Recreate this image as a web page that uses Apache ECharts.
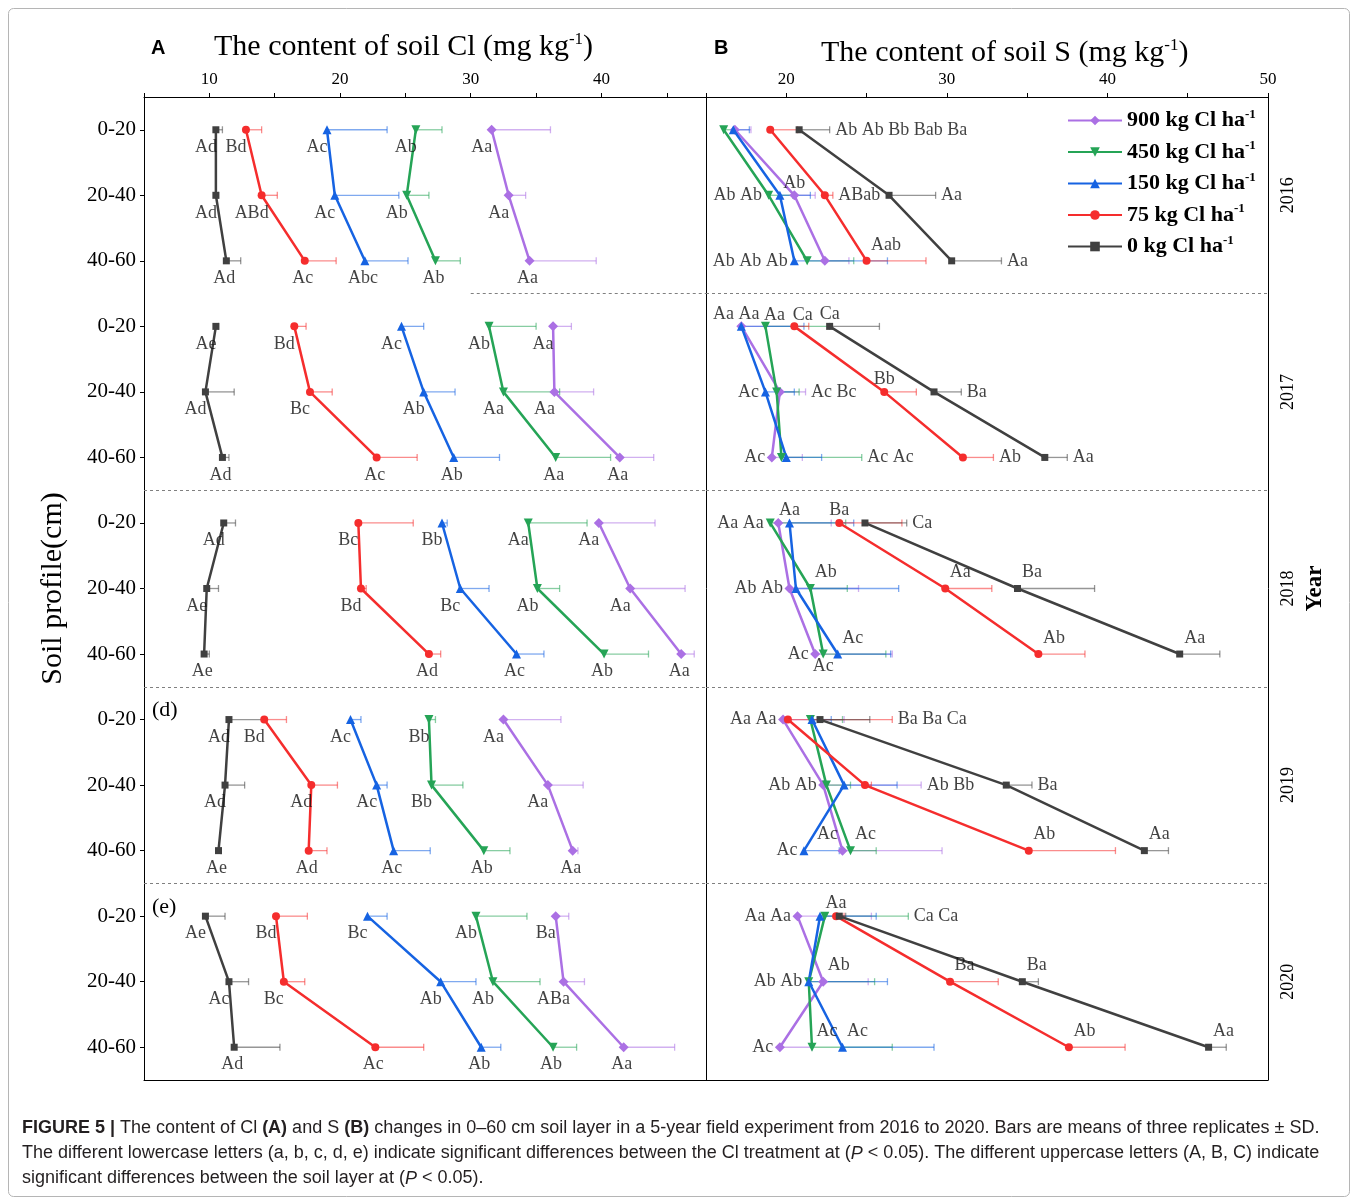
<!DOCTYPE html>
<html><head><meta charset="utf-8">
<script src="https://cdn.jsdelivr.net/npm/echarts@6/dist/echarts.min.js"></script>
<style>html,body{margin:0;padding:0;background:#fff}#c{width:1358px;height:1197px}</style>
</head><body><div id="c"></div>
<script>
// ---------------- DATA ----------------
const years = ['2016', '2017', '2018', '2019', '2020'];
const depths = ['0-20', '20-40', '40-60'];
const treatments = ['900 kg Cl ha', '450 kg Cl ha', '150 kg Cl ha', '75 kg Cl ha', '0 kg Cl ha'];
const clTicks = [10, 20, 30, 40];
const sTicks = [20, 30, 40, 50];

// Panel A: soil Cl (mg/kg); order: 2016(0-20,20-40,40-60), 2017(...), ..., 2020(...)
const clMean900 = [31.6, 32.9, 34.5, 36.3, 36.4, 41.4, 39.8, 42.2, 46.1, 32.5, 35.9, 37.8, 36.5, 37.1, 41.7];
const clSd900   = [4.5, 1.3, 5.1, 1.4, 3.0, 2.6, 4.3, 4.2, 1.0, 4.4, 2.7, 0.4, 1.0, 1.6, 3.9];
const clLet900  = ['Aa','Aa','Aa','Aa','Aa','Aa','Aa','Aa','Aa','Aa','Aa','Aa','Ba','ABa','Aa'];
const clMean450 = [25.8, 25.1, 27.3, 31.4, 32.5, 36.5, 34.4, 35.1, 40.2, 26.8, 27.0, 31.0, 30.4, 31.7, 36.3];
const clSd450   = [2.0, 1.7, 1.9, 3.6, 4.3, 4.2, 4.5, 1.7, 3.4, 0.5, 2.4, 2.0, 3.9, 3.6, 1.8];
const clLet450  = ['Ab','Ab','Ab','Ab','Aa','Aa','Aa','Ab','Ab','Bb','Bb','Ab','Ab','Ab','Ab'];
const clMean150 = [19.0, 19.6, 21.9, 24.7, 26.4, 28.7, 27.8, 29.2, 33.5, 20.8, 22.8, 24.1, 22.1, 27.7, 30.8];
const clSd150   = [4.6, 4.9, 3.3, 1.7, 2.4, 3.5, 0.4, 2.2, 2.1, 0.8, 0.8, 2.8, 1.5, 2.7, 1.5];
const clLet150  = ['Ac','Ac','Abc','Ac','Ab','Ab','Bb','Bc','Ac','Ac','Ac','Ac','Bc','Ab','Ab'];
const clMean75  = [12.8, 14.0, 17.3, 16.5, 17.7, 22.8, 21.4, 21.6, 26.8, 14.2, 17.8, 17.6, 15.1, 15.7, 22.7];
const clSd75    = [1.2, 1.2, 2.4, 0.9, 1.7, 3.1, 4.2, 0.4, 0.9, 1.7, 2.0, 1.4, 2.4, 1.6, 3.7];
const clLet75   = ['Bd','ABd','Ac','Bd','Bc','Ac','Bc','Bd','Ad','Bd','Ad','Ad','Bd','Bc','Ac'];
const clMean0   = [10.5, 10.5, 11.3, 10.5, 9.7, 11.0, 11.1, 9.8, 9.6, 11.5, 11.2, 10.7, 9.7, 11.5, 11.9];
const clSd0     = [0.5, 0.2, 1.1, 0.2, 2.2, 0.5, 0.9, 0.9, 0.4, 2.7, 1.5, 0.2, 1.5, 1.5, 3.5];
const clLet0    = ['Ad','Ad','Ad','Ae','Ad','Ad','Ad','Ae','Ae','Ad','Ad','Ae','Ae','Ac','Ad'];

// Panel B: soil S (mg/kg)
const sMean900 = [16.8, 20.5, 22.4, 17.2, 19.6, 19.1, 19.5, 20.2, 21.8, 19.8, 22.3, 23.5, 20.7, 22.3, 19.6];
const sSd900   = [1.0, 1.3, 1.5, 3.3, 1.6, 1.9, 3.3, 4.3, 4.8, 3.8, 6.1, 6.2, 4.6, 2.8, 2.0];
const sLet900  = ['Ab','Ab','Ab','Aa','Bc','Ac','Aa','Ab','Ac','Aa','Ab','Ac','Aa','Ab','Ac'];
const sMean450 = [16.1, 18.9, 21.3, 18.7, 19.4, 19.7, 19.0, 21.5, 22.3, 21.5, 22.5, 24.0, 22.4, 21.4, 21.6];
const sSd450   = [0.7, 1.5, 2.9, 4.0, 1.4, 5.0, 4.7, 2.3, 3.9, 2.0, 1.5, 1.6, 5.2, 4.1, 5.0];
const sLet450  = ['Ab','Ab','Ab','Aa','Ac','Ac','Aa','Ab','Ac','Aa','Ab','Ac','Aa','Ab','Ac'];
const sMean150 = [16.7, 19.6, 20.5, 17.2, 18.7, 20.0, 20.2, 20.6, 23.2, 21.6, 23.6, 21.1, 22.1, 21.4, 23.5];
const sSd150   = [1.0, 1.9, 5.8, 3.9, 1.8, 2.2, 4.0, 6.4, 3.3, 1.2, 3.3, 2.2, 3.5, 4.9, 5.7];
const sLet150  = ['Bb','Ab','Ab','Aa','Ac','Ac','Aa','Ab','Ac','Ba','Ab','Ac','Ca','Ab','Ac'];
const sMean75  = [19.0, 22.4, 25.0, 20.5, 26.1, 31.0, 23.3, 29.9, 35.7, 20.1, 24.9, 35.1, 23.1, 30.2, 37.6];
const sSd75    = [1.7, 0.5, 3.7, 0.9, 2.0, 1.9, 3.9, 2.9, 2.9, 6.5, 0.4, 5.4, 0.5, 3.0, 3.5];
const sLet75   = ['Bab','ABab','Aab','Ca','Bb','Ab','Ba','Aa','Ab','Ba','Bb','Ab','Aa','Ba','Ab'];
const sMean0   = [20.8, 26.4, 30.3, 22.7, 29.2, 36.1, 24.9, 34.4, 44.5, 22.1, 33.7, 42.3, 23.3, 34.7, 46.3];
const sSd0     = [1.9, 2.9, 3.1, 3.1, 1.7, 1.4, 2.6, 4.8, 2.5, 3.1, 1.6, 1.5, 0.4, 1.0, 1.1];
const sLet0    = ['Ba','Aa','Aa','Ca','Ba','Aa','Ca','Ba','Aa','Ca','Ba','Aa','Ca','Ba','Aa'];

// ---------------- LAYOUT / STYLE ----------------
const SERIF = '"Liberation Serif","Times New Roman",serif';
const SANS = '"Liberation Sans",Arial,sans-serif';
const colors = ['#AB70E4', '#25A456', '#1663E2', '#F52D2D', '#404040'];
const symbols = ['diamond', 'triangle', 'triangle', 'circle', 'rect'];
const symRot = [0, 180, 0, 0, 0];
const symSize = [10, 9, 9, 8, 7];

// Panel B letter groupings (which treatments share one text, anchor treatment, anchor at error-bar end?, side)
const bGroups = [
  [ [{m:[0,1,2,3,4],a:4,e:1,p:'right'}],
    [{m:[1,2],a:1,e:0,p:'left'},{m:[0],a:0,e:0,p:'top'},{m:[3],a:3,e:1,p:'right'},{m:[4],a:4,e:1,p:'right'}],
    [{m:[0,1,2],a:2,e:0,p:'left'},{m:[3],a:3,e:0,p:'tr'},{m:[4],a:4,e:1,p:'right'}] ],
  [ [{m:[0,2],a:0,e:0,p:'tlc'},{m:[1],a:1,e:0,p:'tc'},{m:[3],a:3,e:0,p:'tc'},{m:[4],a:4,e:0,p:'top'}],
    [{m:[2],a:2,e:0,p:'left'},{m:[1,0],a:0,e:1,p:'right'},{m:[3],a:3,e:0,p:'top'},{m:[4],a:4,e:1,p:'right'}],
    [{m:[0],a:0,e:0,p:'left'},{m:[1,2],a:1,e:1,p:'right'},{m:[3],a:3,e:1,p:'right'},{m:[4],a:4,e:1,p:'right'}] ],
  [ [{m:[1,0],a:1,e:0,p:'left'},{m:[2],a:2,e:0,p:'top'},{m:[3],a:3,e:0,p:'top'},{m:[4],a:4,e:1,p:'right'}],
    [{m:[0,2],a:0,e:0,p:'left'},{m:[1],a:1,e:0,p:'tr'},{m:[3],a:3,e:0,p:'tr'},{m:[4],a:4,e:0,p:'tr'}],
    [{m:[0],a:0,e:0,p:'left'},{m:[1],a:1,e:0,p:'bottom'},{m:[2],a:2,e:0,p:'tr'},{m:[3],a:3,e:0,p:'tr'},{m:[4],a:4,e:0,p:'tr'}] ],
  [ [{m:[0,1],a:0,e:0,p:'left'},{m:[2,3,4],a:3,e:1,p:'right'}],
    [{m:[0,1],a:0,e:0,p:'left'},{m:[2,3],a:0,e:1,p:'right'},{m:[4],a:4,e:1,p:'right'}],
    [{m:[2],a:2,e:0,p:'left'},{m:[0],a:0,e:0,p:'tl'},{m:[1],a:1,e:0,p:'tr'},{m:[3],a:3,e:0,p:'tr'},{m:[4],a:4,e:0,p:'tr'}] ],
  [ [{m:[0,1],a:0,e:0,p:'left'},{m:[3],a:3,e:0,p:'top'},{m:[2,4],a:1,e:1,p:'right'}],
    [{m:[1,2],a:1,e:0,p:'left'},{m:[0],a:0,e:0,p:'tr'},{m:[3],a:3,e:0,p:'tr'},{m:[4],a:4,e:0,p:'tr'}],
    [{m:[0],a:0,e:0,p:'left'},{m:[1],a:1,e:0,p:'tr'},{m:[2],a:2,e:0,p:'tr'},{m:[3],a:3,e:0,p:'tr'},{m:[4],a:4,e:0,p:'tr'}] ]
];
const posCfg = {
  left: {position:'left', distance:6},
  right: {position:'right', distance:5},
  top: {position:'top', distance:3},
  tlc: {position:'top', distance:3, offset:[-5, 0]},
  bottom: {position:'bottom', distance:3},
  tr: {position:'right', distance:4, offset:[0,-16]},
  tc: {position:'right', distance:-2, offset:[0,-11]},
  tl: {position:'left', distance:4, offset:[0,-16]}
};

// ---------------- BUILD ----------------
const clMeans = [clMean900, clMean450, clMean150, clMean75, clMean0];
const clSds = [clSd900, clSd450, clSd150, clSd75, clSd0];
const clLets = [clLet900, clLet450, clLet150, clLet75, clLet0];
const sMeans = [sMean900, sMean450, sMean150, sMean75, sMean0];
const sSds = [sSd900, sSd450, sSd150, sSd75, sSd0];
const sLets = [sLet900, sLet450, sLet150, sLet75, sLet0];

const cats = [];
years.forEach(y => depths.forEach(d => cats.push(y + ' ' + d)));

function errItem(params, api) {
  const x = api.value(0), y = api.value(1), sd = api.value(2);
  const p0 = api.coord([x, y]);
  const p1 = api.coord([x + sd, y]);
  const st = {stroke: api.visual('color'), lineWidth: 1.3, opacity: 0.55};
  return {type: 'group', children: [
    {type: 'line', shape: {x1: p0[0], y1: p0[1], x2: p1[0], y2: p1[1]}, style: st},
    {type: 'line', shape: {x1: p1[0], y1: p1[1] - 3.5, x2: p1[0], y2: p1[1] + 3.5}, style: st}
  ]};
}

const series = [];
function addPanel(p, means, sds) {
  for (let t = 0; t < 5; t++) {
    for (let yr = 0; yr < 5; yr++) {
      series.push({
        type: 'line', name: treatments[t], xAxisIndex: p * 2, yAxisIndex: p * 2, z: 3,
        symbol: symbols[t], symbolSize: symSize[t], symbolRotate: symRot[t], showSymbol: true,
        lineStyle: {width: 2.5, color: colors[t]}, itemStyle: {color: colors[t]},
        emphasis: {disabled: true}, silent: true, clip: false,
        data: [0, 1, 2].map(d => [means[t][yr * 3 + d], yr * 3 + d + 0.5])
      });
    }
  }
  for (let t = 0; t < 5; t++) {
    series.push({
      type: 'custom', name: 'sd' + p + t, xAxisIndex: p * 2, yAxisIndex: p * 2, z: 2, silent: true,
      itemStyle: {color: colors[t]}, renderItem: errItem, encode: {x: 0, y: 1}, clip: false,
      data: means[t].map((m, i) => [m, i + 0.5, sds[t][i]])
    });
  }
}
addPanel(0, clMeans, clSds);
addPanel(1, sMeans, sSds);

const dashStyle = {type: [3, 3], color: '#808080', width: 1};
// Panel A letters
const aLabelData = [];
for (let t = 0; t < 5; t++) {
  for (let i = 0; i < 15; i++) {
    const d = i % 3;
    aLabelData.push({name: clLets[t][i], value: [clMeans[t][i], i + 0.5],
      label: {position: 'bottom', distance: 8, offset: [d < 2 ? -10 : -2, 0]}});
  }
}
series.push({
  type: 'scatter', name: 'labelsA', xAxisIndex: 0, yAxisIndex: 0, z: 5, silent: true, symbolSize: 1,
  itemStyle: {color: 'rgba(0,0,0,0)'}, emphasis: {disabled: true},
  label: {show: true, formatter: '{b}', fontFamily: SERIF, fontSize: 18, color: '#111'},
  data: aLabelData,
  markLine: {symbol: 'none', silent: true, label: {show: false}, lineStyle: dashStyle,
    data: [[{coord: [30, 3]}, {coord: [48, 3]}], {yAxis: 6}, {yAxis: 9}, {yAxis: 12}]}
});
// Panel B letters
const bLabelData = [];
for (let yr = 0; yr < 5; yr++) {
  for (let d = 0; d < 3; d++) {
    const i = yr * 3 + d;
    bGroups[yr][d].forEach(g => {
      const x = sMeans[g.a][i] + (g.e ? sSds[g.a][i] : 0);
      bLabelData.push({name: g.m.map(t => sLets[t][i]).join(' '), value: [x, i + 0.5], label: posCfg[g.p]});
    });
  }
}
series.push({
  type: 'scatter', name: 'labelsB', xAxisIndex: 2, yAxisIndex: 2, z: 5, silent: true, symbolSize: 1,
  itemStyle: {color: 'rgba(0,0,0,0)'}, emphasis: {disabled: true},
  label: {show: true, formatter: '{b}', fontFamily: SERIF, fontSize: 18, color: '#111'},
  data: bLabelData,
  markLine: {symbol: 'none', silent: true, label: {show: false}, lineStyle: dashStyle,
    data: [{yAxis: 3}, {yAxis: 6}, {yAxis: 9}, {yAxis: 12}]}
});

const axisLineStyle = {show: true, lineStyle: {color: '#000', width: 1}};
function topX(grid, min, max, ticks) {
  return {type: 'value', gridIndex: grid, position: 'top', min: min, max: max, interval: 5,
    axisLine: axisLineStyle, axisTick: {show: true, length: 4, lineStyle: {color: '#000'}},
    splitLine: {show: false},
    axisLabel: {formatter: v => ticks.indexOf(v) >= 0 ? String(v) : '', fontFamily: SERIF, fontSize: 17, color: '#000', margin: 9}};
}
function bottomX(grid, min, max) {
  return {type: 'value', gridIndex: grid, position: 'bottom', min: min, max: max,
    axisLine: axisLineStyle, axisTick: {show: false}, axisLabel: {show: false}, splitLine: {show: false}};
}
const sup = {fontFamily: SERIF, fontSize: 17, color: '#000', padding: [0, 0, 16, 0]};

const option = {
  animation: false,
  backgroundColor: '#fff',
  grid: [{left: 144, top: 97, width: 562, height: 983}, {left: 706, top: 97, width: 562, height: 983}],
  xAxis: [topX(0, 5, 48, clTicks), bottomX(0, 5, 48), topX(1, 15, 50, sTicks), bottomX(1, 15, 50)],
  yAxis: [
    {type: 'value', gridIndex: 0, inverse: true, min: 0, max: 15, show: false},
    {type: 'category', gridIndex: 0, inverse: true, position: 'left', data: cats,
      axisLine: axisLineStyle, axisTick: {show: true, alignWithLabel: true, length: 4, lineStyle: {color: '#000'}},
      axisLabel: {formatter: v => v.split(' ')[1], fontFamily: SERIF, fontSize: 21, color: '#000', margin: 8},
      name: 'Soil profile(cm)', nameLocation: 'middle', nameGap: 76,
      nameTextStyle: {fontFamily: SERIF, fontSize: 30, color: '#000'}},
    {type: 'value', gridIndex: 1, inverse: true, min: 0, max: 15, show: false},
    {type: 'category', gridIndex: 1, inverse: true, position: 'left', data: cats,
      axisLine: axisLineStyle, axisTick: {show: false}, axisLabel: {show: false}},
    {type: 'category', gridIndex: 1, inverse: true, position: 'right', data: years,
      axisLine: axisLineStyle, axisTick: {show: false},
      axisLabel: {rotate: 90, fontFamily: SERIF, fontSize: 18, color: '#000', margin: 11},
      name: 'Year', nameLocation: 'middle', nameGap: 36,
      nameTextStyle: {fontFamily: SERIF, fontSize: 23, fontWeight: 'bold', color: '#000'}}
  ],
  legend: {
    data: treatments, orient: 'vertical', left: 1062, top: 103, itemGap: 8, itemWidth: 54, itemHeight: 12,
    selectedMode: false,
    formatter: n => n + '{s|-1}',
    textStyle: {fontFamily: SERIF, fontSize: 22, fontWeight: 'bold', color: '#000',
      rich: {s: {fontFamily: SERIF, fontSize: 13, fontWeight: 'bold', color: '#000', padding: [0, 0, 12, 0]}}}
  },
  title: [
    {text: 'A', left: 146, top: 33, textStyle: {fontFamily: SANS, fontWeight: 'bold', fontSize: 20, color: '#000'}},
    {text: 'The content of soil Cl (mg kg{s|-1})', left: 209, top: 26,
      textStyle: {fontFamily: SERIF, fontWeight: 'normal', fontSize: 30, color: '#000', rich: {s: sup}}},
    {text: 'B', left: 709, top: 33, textStyle: {fontFamily: SANS, fontWeight: 'bold', fontSize: 20, color: '#000'}},
    {text: 'The content of soil S (mg kg{s|-1})', left: 816, top: 32,
      textStyle: {fontFamily: SERIF, fontWeight: 'normal', fontSize: 30, color: '#000', rich: {s: sup}}},
    {text: '{b|FIGURE 5 |} The content of Cl {b|(A)} and S {b|(B)} changes in 0–60 cm soil layer in a 5-year field experiment from 2016 to 2020. Bars are means of three replicates ± SD.\n' +
           'The different lowercase letters (a, b, c, d, e) indicate significant differences between the Cl treatment at ({i|P} < 0.05). The different uppercase letters (A, B, C) indicate\n' +
           'significant differences between the soil layer at ({i|P} < 0.05).',
      left: 22, top: 1116, padding: 0,
      textStyle: {fontFamily: SANS, fontWeight: 'normal', fontSize: 18, color: '#231f20', lineHeight: 25,
        rich: {b: {fontFamily: SANS, fontWeight: 'bold', fontSize: 18, color: '#231f20', lineHeight: 25},
               i: {fontFamily: SANS, fontStyle: 'italic', fontSize: 18, color: '#231f20', lineHeight: 25}}}}
  ],
  graphic: [
    {type: 'rect', z: 0, shape: {x: 8.5, y: 8.5, width: 1341, height: 1188, r: 5}, style: {fill: 'none', stroke: '#b5b5b5', lineWidth: 1}},
    {type: 'text', x: 152, y: 699, style: {text: '(d)', font: '22px ' + SERIF, fill: '#000'}},
    {type: 'text', x: 152, y: 896, style: {text: '(e)', font: '22px ' + SERIF, fill: '#000'}}
  ],
  series: series
};
const chart = echarts.init(document.getElementById('c'));
chart.setOption(option);
</script></body></html>
